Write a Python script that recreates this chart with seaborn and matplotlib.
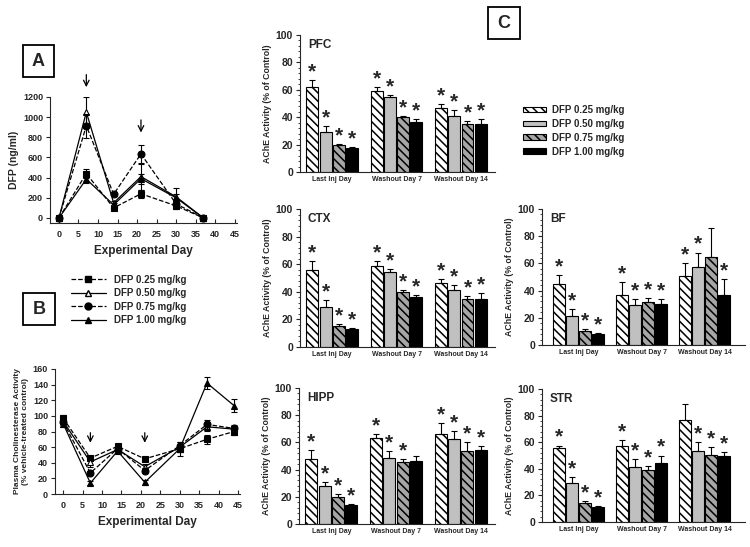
import numpy as np
import pandas as pd
import matplotlib
matplotlib.use("Agg")
import matplotlib.pyplot as plt
from matplotlib.patches import Patch, Rectangle
from matplotlib.lines import Line2D
from matplotlib.ticker import AutoMinorLocator
import seaborn as sns

# %% data
doses = ["DFP 0.25 mg/kg", "DFP 0.50 mg/kg", "DFP 0.75 mg/kg", "DFP 1.00 mg/kg"]

# panel A: plasma DFP (ng/ml)
days_a = [0, 7, 14, 21, 30, 37]
dfp_025 = [0, 440, 100, 240, 120, 0]
dfp_050 = [0, 1050, 150, 410, 210, 0]
dfp_075 = [0, 915, 235, 635, 140, 0]
dfp_100 = [0, 385, 130, 390, 200, 0]
dfp_err_025 = [0, 45, 20, 40, 30, 0]
dfp_err_050 = [0, 150, 20, 130, 90, 0]
dfp_err_075 = [0, 120, 20, 85, 30, 0]
dfp_err_100 = [0, 40, 20, 50, 40, 0]

# panel B: plasma cholinesterase (% control)
days_b = [0, 7, 14, 21, 30, 37, 44]
che_025 = [97, 46, 61, 45, 58, 70, 80]
che_050 = [93, 41, 57, 35, 60, 86, 83]
che_075 = [92, 27, 58, 30, 62, 89, 84]
che_100 = [90, 14, 55, 15, 58, 142, 113]
che_err_025 = [4, 3, 3, 3, 4, 6, 4]
che_err_050 = [4, 7, 3, 4, 4, 5, 4]
che_err_075 = [4, 3, 3, 3, 4, 6, 4]
che_err_100 = [4, 3, 3, 3, 9, 8, 8]

# panel C: brain AChE (% of control)
groups = ["Last Inj Day", "Washout Day 7", "Washout Day 14"]
pfc_mean = [[62, 59, 46.5], [29.5, 54.5, 41], [19.5, 40, 35], [17.5, 36.5, 35]]
pfc_err = [[5, 3, 3], [4, 2, 4], [1, 1, 2], [1, 2, 4]]
pfc_star = [[1, 1, 1], [1, 1, 1], [1, 1, 1], [1, 1, 1]]
ctx_mean = [[56, 59, 46.5], [29, 54.5, 41], [15, 40, 35], [13, 36.5, 35]]
ctx_err = [[6, 3, 3], [5, 2, 4], [1.5, 1, 2], [1, 1.5, 4]]
ctx_star = [[1, 1, 1], [1, 1, 1], [1, 1, 1], [1, 1, 1]]
bf_mean = [[44.5, 36.5, 50.5], [21.5, 29.5, 57], [10.5, 31.5, 65], [8, 30, 37]]
bf_err = [[7, 9.5, 9.5], [5, 4.5, 11], [1, 3, 21], [1, 4, 11.5]]
bf_star = [[1, 1, 1], [1, 1, 1], [1, 1, 0], [1, 1, 1]]
hipp_mean = [[47.5, 63, 66.5], [28, 48.5, 62.5], [20, 45.5, 53.5], [14, 46, 54.5]]
hipp_err = [[7, 3, 8], [3, 5, 6], [2, 2, 7], [1, 4, 3]]
hipp_star = [[1, 1, 1], [1, 1, 1], [1, 1, 1], [1, 0, 1]]
str_mean = [[56, 57, 77], [29, 41.5, 53.5], [14, 39, 50.5], [11.5, 44, 50]]
str_err = [[1.5, 4.5, 12], [4.5, 5.5, 6.5], [2, 3, 6], [0.8, 6, 2.5]]
str_star = [[1, 1, 0], [1, 1, 1], [1, 1, 1], [1, 1, 1]]

# %% style
sns.set_style("ticks")
plt.rcParams["font.family"] = ["Liberation Sans", "DejaVu Sans"]
plt.rcParams["font.weight"] = "bold"
plt.rcParams["axes.labelweight"] = "bold"
plt.rcParams["hatch.linewidth"] = 1.1

W, H = 750, 547
fig = plt.figure(figsize=(7.5, 5.47), dpi=100)


def fax(left, top, right, bottom):
    # axes from pixel box
    return fig.add_axes([left / W, 1 - bottom / H, (right - left) / W, (bottom - top) / H])


def label_box(cx, cy, letter):
    s = 32
    fig.add_artist(Rectangle(((cx - s / 2) / W, 1 - (cy + s / 2) / H), s / W, s / H,
                             transform=fig.transFigure, fill=False, ec="k", lw=1.3))
    fig.text(cx / W, 1 - cy / H, letter, ha="center", va="center", fontsize=13, weight="bold")


line_styles = [("s", "--", "k"), ("^", "-", "white"), ("o", "--", "k"), ("^", "-", "k")]


def line_panel(ax, days, series, errs):
    for vals, err, (mk, ls, mfc) in zip(series, errs, line_styles):
        ax.errorbar(days, vals, yerr=err, fmt="none", ecolor="k", elinewidth=0.8, capsize=2, capthick=0.8)
        sns.lineplot(x=days, y=vals, ax=ax, color="k", lw=0.9, linestyle=ls, marker=mk,
                     markersize=5, markerfacecolor=mfc, markeredgecolor="k", markeredgewidth=0.8)
    ax.set_xticks(range(0, 46, 5))
    ax.tick_params(axis="x", direction="in", labelsize=6.5, length=3, pad=5)
    ax.tick_params(axis="y", labelsize=6.5, length=3, pad=2)
    ax.set_xlabel("Experimental Day", fontsize=8.5, labelpad=4)
    sns.despine(ax=ax)


# %% panel A
axA = fax(50, 97, 237, 223)
line_panel(axA, days_a, [dfp_025, dfp_050, dfp_075, dfp_100],
           [dfp_err_025, dfp_err_050, dfp_err_075, dfp_err_100])
axA.set_xlim(-2.3, 45.6)
axA.set_ylim(-50, 1200)
axA.set_yticks(range(0, 1201, 200))
axA.set_ylabel("DFP (ng/ml)", fontsize=7.5, labelpad=3)
for d, y0, y1 in [(7, 1450, 1270), (21, 1000, 820)]:
    axA.annotate("", xy=(d, y1), xytext=(d, y0), annotation_clip=False,
                 arrowprops=dict(arrowstyle="->", color="k", lw=0.9, mutation_scale=10))

# %% panel B
axB = fax(55, 369, 240, 494)
line_panel(axB, days_b, [che_025, che_050, che_075, che_100],
           [che_err_025, che_err_050, che_err_075, che_err_100])
axB.set_xlim(-2.1, 45.5)
axB.set_ylim(0, 160)
axB.set_yticks(range(0, 161, 20))
axB.set_ylabel("Plasma Cholinesterase Activity\n(% vehicle-treated control)", fontsize=6, labelpad=3)
for d in [7, 21]:
    axB.annotate("", xy=(d, 62), xytext=(d, 82),
                 arrowprops=dict(arrowstyle="->", color="k", lw=0.9, mutation_scale=10))

# line legend
handles = [Line2D([], [], color="k", lw=0.9, linestyle=ls, marker=mk, markersize=5,
                  markerfacecolor=mfc, markeredgecolor="k") for mk, ls, mfc in line_styles]
fig.legend(handles, doses, loc="upper left", bbox_to_anchor=(66 / W, 1 - 270 / H), frameon=False,
           fontsize=7, handlelength=3.6, labelspacing=0.35, handletextpad=0.8, borderpad=0)

label_box(38.5, 61, "A")
label_box(39, 309, "B")
label_box(504, 23, "C")

# %% panel C
bar_colors = ["white", "#c0c0c0", "#a6a6a6", "black"]
bar_hatch = ["\\\\\\\\", "", "\\\\\\\\", ""]


def bar_panel(ax, means, errs, stars, name, xlim):
    df = pd.DataFrame({
        "group": [g for _ in doses for g in groups],
        "dose": [d for d in doses for _ in groups],
        "value": [v for row in means for v in row],
    })
    sns.barplot(data=df, x="group", y="value", hue="dose", order=groups, hue_order=doses,
                palette=dict(zip(doses, bar_colors)), saturation=1, errorbar=None,
                width=0.82, gap=0.1, edgecolor="k", linewidth=0.8, legend=False, ax=ax)
    bar_conts = list(ax.containers)
    for i, cont in enumerate(bar_conts):
        for j, bar in enumerate(cont.patches):
            bar.set_hatch(bar_hatch[i])
            xc = bar.get_x() + bar.get_width() / 2
            top = means[i][j] + errs[i][j]
            ax.errorbar([xc], [means[i][j]], yerr=[[0], [errs[i][j]]], fmt="none",
                        ecolor="k", elinewidth=0.8, capsize=2, capthick=0.8)
            if stars[i][j]:
                ax.text(xc, top - 1, "*", ha="center", va="bottom", fontsize=15, weight="bold")
    ax.set_xlim(*xlim)
    ax.set_ylim(0, 100)
    ax.set_yticks(range(0, 101, 20))
    ax.yaxis.set_minor_locator(AutoMinorLocator(5))
    ax.tick_params(axis="y", labelsize=7.5, length=3, pad=2)
    ax.tick_params(axis="y", which="minor", length=1.5)
    ax.tick_params(axis="x", length=0, labelsize=5, pad=3)
    ax.set_xlabel("")
    ax.set_ylabel("AChE Activity (% of Control)", fontsize=6.3, labelpad=3)
    ax.text(0.04, 0.97, name, transform=ax.transAxes, ha="left", va="top", fontsize=8.5, weight="bold")
    sns.despine(ax=ax)


left_lim = (-0.5, 2.53)
right_lim = (-0.58, 2.64)
bar_panel(fax(300, 35, 495, 172), pfc_mean, pfc_err, pfc_star, "PFC", left_lim)
bar_panel(fax(300, 209, 495, 347), ctx_mean, ctx_err, ctx_star, "CTX", left_lim)
bar_panel(fax(542, 209, 745, 345), bf_mean, bf_err, bf_star, "BF", right_lim)
bar_panel(fax(299, 388, 495, 524), hipp_mean, hipp_err, hipp_star, "HIPP", left_lim)
bar_panel(fax(542, 389, 745, 522), str_mean, str_err, str_star, "STR", right_lim)

# bar legend
patches = [Patch(facecolor=c, edgecolor="k", hatch=h, lw=0.8) for c, h in zip(bar_colors, bar_hatch)]
fig.legend(patches, doses, loc="upper left", bbox_to_anchor=(518 / W, 1 - 100 / H), frameon=False,
           fontsize=7, handlelength=2.4, handleheight=0.5, labelspacing=0.4, handletextpad=0.6,
           borderpad=0)

fig.savefig("out.png", dpi=100)
